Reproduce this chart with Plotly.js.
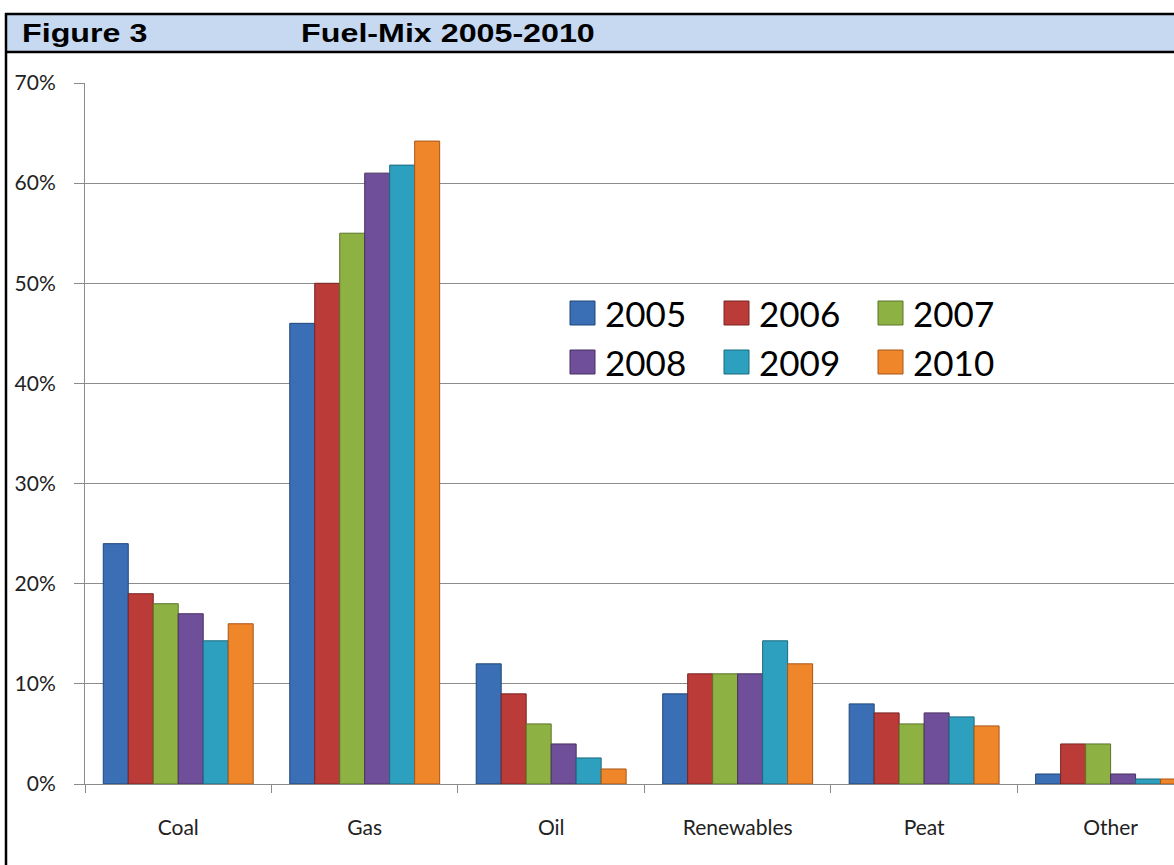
<!DOCTYPE html>
<html>
<head>
<meta charset="utf-8">
<script src="https://cdn.plot.ly/plotly-3.0.1.min.js"></script>
<style>
  html, body { margin: 0; padding: 0; background: #ffffff; }
  #chart { width: 1174px; height: 865px; }
</style>
</head>
<body>
<div id="chart"></div>
<script>
// ---- data ----
const categories = ["Coal", "Gas", "Oil", "Renewables", "Peat", "Other"];
const years = ["2005", "2006", "2007", "2008", "2009", "2010"];
const v2005 = [24, 46, 12, 9, 8, 1];
const v2006 = [19, 50, 9, 11, 7.1, 4];
const v2007 = [18, 55, 6, 11, 6, 4];
const v2008 = [17, 61, 4, 11, 7.1, 1];
const v2009 = [14.3, 61.8, 2.6, 14.3, 6.7, 0.5];
const v2010 = [16, 64.2, 1.5, 12, 5.8, 0.5];
const yTicks = [0, 10, 20, 30, 40, 50, 60, 70];
const figureLabel = "Figure 3";
const figureTitle = "Fuel-Mix 2005-2010";

// ---- styles ----
const series = [v2005, v2006, v2007, v2008, v2009, v2010];
const colors = ["#3a6fb6", "#bb3b38", "#8db143", "#6f4f99", "#2ea0bf", "#f0862a"];
const edges  = ["#1f4677", "#7a2423", "#5b7428", "#47315f", "#1b6a7f", "#a8561a"];

const W = 1174, H = 865;
const mL = 85, mR = 0, mT = 83, mB = 81;
const plotW = W - mL - mR, plotH = H - mT - mB;
const px = x => (x - mL) / plotW;
const py = y => (H - mB - y) / plotH;

const traces = series.map((vals, i) => ({
  type: "bar",
  name: years[i],
  x: categories,
  y: vals,
  marker: { color: colors[i], line: { color: edges[i], width: 1 } },
  showlegend: false,
  hoverinfo: "x+y+name"
}));

const shapes = [];
const annotations = [];

// header band and frame
shapes.push({ type: "rect", xref: "paper", yref: "paper", x0: px(6), x1: px(1180), y0: py(52), y1: py(14),
  fillcolor: "#c6d9f1", line: { width: 0 }, layer: "below" });
shapes.push({ type: "line", xref: "paper", yref: "paper", x0: px(5), x1: px(1180), y0: py(14), y1: py(14),
  line: { color: "#000000", width: 2.5 } });
shapes.push({ type: "line", xref: "paper", yref: "paper", x0: px(5), x1: px(1180), y0: py(52), y1: py(52),
  line: { color: "#000000", width: 2.5 } });
shapes.push({ type: "line", xref: "paper", yref: "paper", x0: px(6), x1: px(6), y0: py(13), y1: py(870),
  line: { color: "#000000", width: 2.5 } });

const headerFont = { family: "Liberation Sans, Arial, sans-serif", size: 26, color: "#000000" };
annotations.push({ text: "<b>" + figureLabel + "</b>", xref: "paper", yref: "paper", x: px(20), y: py(33),
  xanchor: "left", yanchor: "middle", showarrow: false, font: headerFont });
annotations.push({ text: "<b>" + figureTitle + "</b>", xref: "paper", yref: "paper", x: px(299), y: py(33),
  xanchor: "left", yanchor: "middle", showarrow: false, font: headerFont });

// custom legend (3 per row)
years.forEach((yr, i) => {
  const row = Math.floor(i / 3), col = i % 3;
  const sx = 570 + col * 154, cy = 313 + row * 49;
  shapes.push({ type: "rect", xref: "paper", yref: "paper",
    x0: px(sx), x1: px(sx + 25), y0: py(cy + 12), y1: py(cy - 12),
    fillcolor: colors[i], line: { color: edges[i], width: 1 } });
  annotations.push({ text: yr, xref: "paper", yref: "paper", x: px(sx + 33), y: py(cy),
    xanchor: "left", yanchor: "middle", showarrow: false,
    font: { family: "Lato, sans-serif", size: 35, color: "#000000" } });
});

const layout = {
  width: W, height: H,
  margin: { l: mL, r: mR, t: mT, b: mB, pad: 0 },
  paper_bgcolor: "#ffffff",
  plot_bgcolor: "#ffffff",
  barmode: "group",
  bargap: 0.196,
  bargroupgap: 0,
  showlegend: false,
  xaxis: {
    type: "category",
    range: [-0.5, 5.34],
    tickson: "boundaries",
    ticks: "outside", ticklen: 8, tickcolor: "#8a8a8a", tickwidth: 1,
    showline: true, linecolor: "#8a8a8a", linewidth: 1,
    showgrid: false, zeroline: false,
    ticklabelstandoff: 25,
    tickfont: { family: "Lato, sans-serif", size: 21, color: "#222222" }
  },
  yaxis: {
    range: [0, 70],
    tickvals: yTicks,
    ticktext: yTicks.map(t => t + "%"),
    ticks: "outside", ticklen: 10, tickcolor: "#8a8a8a", tickwidth: 1,
    showline: true, linecolor: "#8a8a8a", linewidth: 1,
    showgrid: true, gridcolor: "#8c8c8c", gridwidth: 1,
    zeroline: false,
    ticklabelstandoff: 14,
    tickfont: { family: "Lato, sans-serif", size: 21, color: "#222222" }
  },
  shapes: shapes,
  annotations: annotations
};

// the original header text is horizontally widened; stretch it keeping the left edge fixed
function widen(el, s) {
  if (!el || el.getAttribute("transform")) return;
  const b = el.getBBox();
  el.setAttribute("transform", "translate(" + (b.x * (1 - s)) + ",0) scale(" + s + ",1)");
}

Plotly.newPlot("chart", traces, layout, { displayModeBar: false, staticPlot: true }).then(() => {
  const anns = document.querySelectorAll("#chart .annotation");
  [0, 1].forEach(i => {
    if (anns[i]) widen(anns[i].querySelector("text.annotation-text"), 1.24);
  });
});
</script>
</body>
</html>
